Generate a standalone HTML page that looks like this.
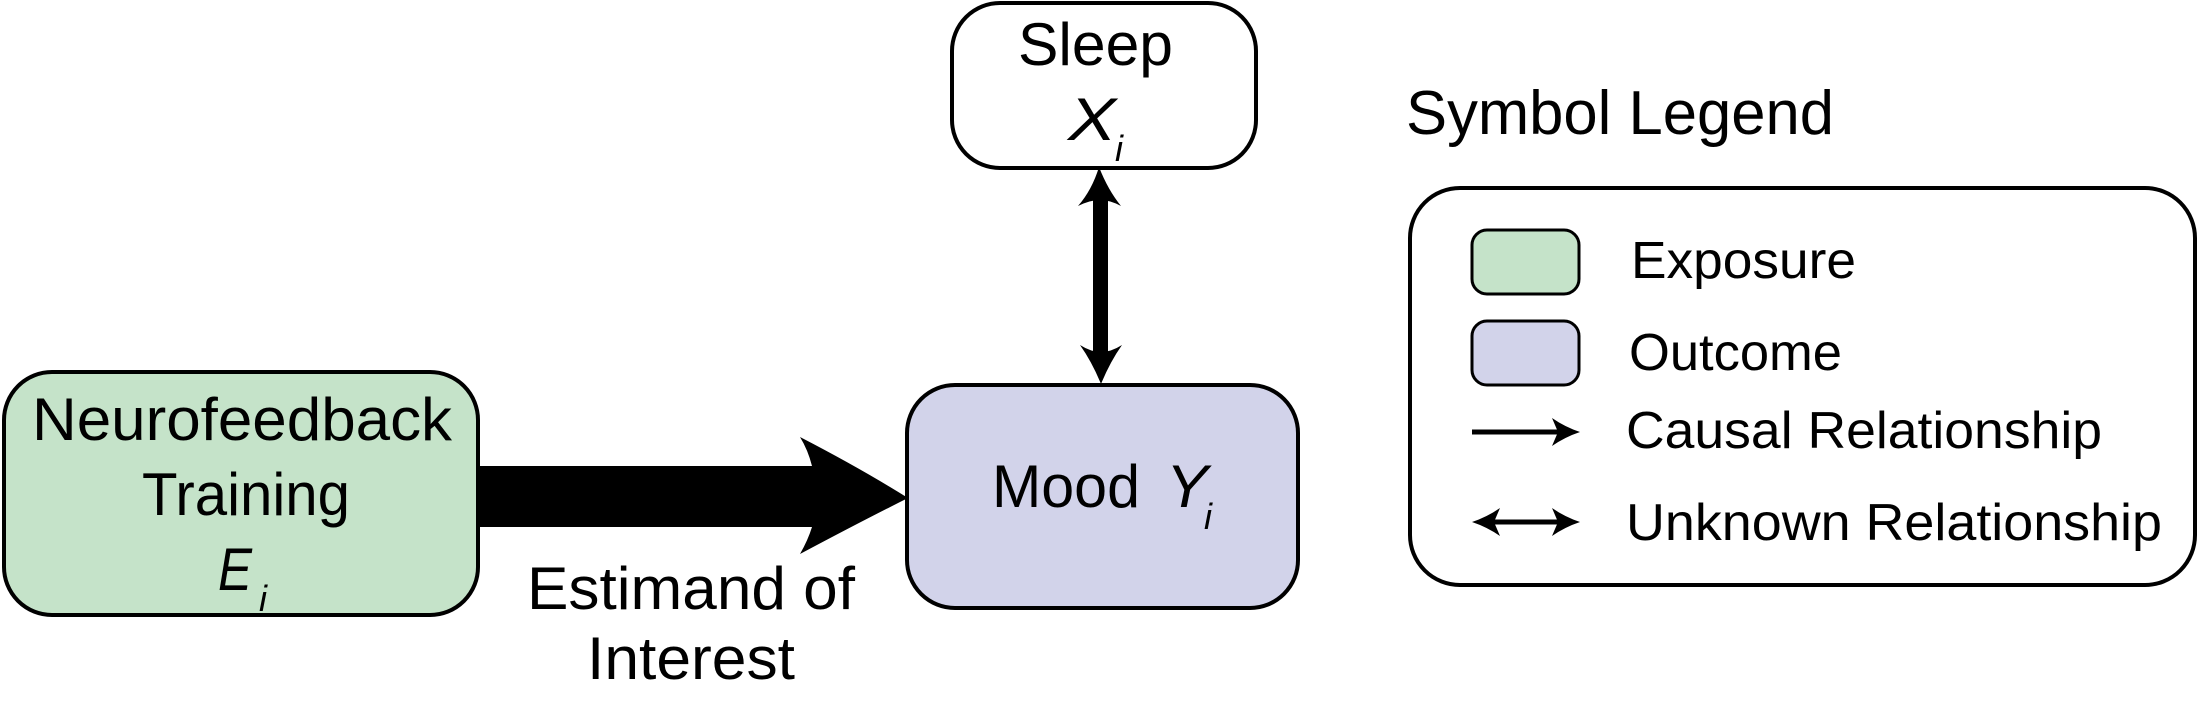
<!DOCTYPE html>
<html><head><meta charset="utf-8"><style>
html,body{margin:0;padding:0;background:#fff;}
svg{display:block;}
text{font-family:"Liberation Sans",Arial,sans-serif;fill:#000;}
</style></head><body>
<svg width="2198" height="703" viewBox="0 0 2198 703" xmlns="http://www.w3.org/2000/svg">
<rect x="4" y="372" width="474" height="243" rx="48" fill="#c5e3c9" stroke="#000" stroke-width="4"/>
<text x="32" y="440" font-size="60" textLength="420" lengthAdjust="spacingAndGlyphs">Neurofeedback</text>
<text x="142" y="515" font-size="60" textLength="208" lengthAdjust="spacingAndGlyphs">Training</text>
<text x="218" y="590" font-size="60" font-style="italic" textLength="34" lengthAdjust="spacingAndGlyphs">E</text>
<text x="259" y="611" font-size="36" font-style="italic">i</text>
<rect x="907" y="385" width="391" height="223" rx="48" fill="#d2d3ea" stroke="#000" stroke-width="4"/>
<text x="992" y="507" font-size="60" textLength="148" lengthAdjust="spacingAndGlyphs">Mood</text>
<text x="1166" y="507" font-size="60" font-style="italic" textLength="42" lengthAdjust="spacingAndGlyphs">Y</text>
<text x="1204" y="529" font-size="36" font-style="italic">i</text>
<rect x="952" y="3" width="304" height="165" rx="48" fill="#fff" stroke="#000" stroke-width="4"/>
<text x="1018" y="65" font-size="60" textLength="155" lengthAdjust="spacingAndGlyphs">Sleep</text>
<text x="1068" y="140" font-size="60" font-style="italic" textLength="48" lengthAdjust="spacingAndGlyphs">X</text>
<text x="1115" y="161" font-size="36" font-style="italic">i</text>
<path d="M478,466 L812,466 Q808,450 800,437 Q860,468 908,498 Q860,522 800,554 Q808,540 812,527 L478,527 Z" fill="#000"/>
<text x="527" y="609" font-size="60" textLength="328" lengthAdjust="spacingAndGlyphs">Estimand of</text>
<text x="587" y="679" font-size="60" textLength="208" lengthAdjust="spacingAndGlyphs">Interest</text>
<path d="M1093,190 L1108,190 L1108,362 L1093,362 Z" fill="#000"/>
<path d="M1099,167 Q1108,190 1121,206 Q1110,200 1100,200 Q1090,200 1078,206 Q1092,190 1099,167 Z" fill="#000"/>
<path d="M1101,384 Q1092,362 1080,345 Q1091,352 1101,352 Q1111,352 1122,345 Q1110,362 1101,384 Z" fill="#000"/>
<text x="1406" y="134" font-size="62" textLength="428" lengthAdjust="spacingAndGlyphs">Symbol Legend</text>
<rect x="1410" y="188" width="785" height="397" rx="50" fill="#fff" stroke="#000" stroke-width="4"/>
<rect x="1472" y="230" width="107" height="64" rx="15" fill="#c5e3c9" stroke="#000" stroke-width="3"/>
<rect x="1472" y="321" width="107" height="64" rx="15" fill="#d2d3ea" stroke="#000" stroke-width="3"/>
<line x1="1472" y1="432" x2="1560" y2="432" stroke="#000" stroke-width="5"/>
<path d="M1580,432 Q1565,427 1552,418 L1558,432 L1552,446 Q1565,437 1580,432 Z" fill="#000"/>
<line x1="1490" y1="522" x2="1562" y2="522" stroke="#000" stroke-width="5"/>
<path d="M1580,522 Q1565,517 1552,508 L1558,522 L1552,536 Q1565,527 1580,522 Z" fill="#000"/>
<path d="M1472,522 Q1487,517 1500,508 L1494,522 L1500,536 Q1487,527 1472,522 Z" fill="#000"/>
<text x="1631" y="278" font-size="52" textLength="225" lengthAdjust="spacingAndGlyphs">Exposure</text>
<text x="1629" y="370" font-size="52" textLength="213" lengthAdjust="spacingAndGlyphs">Outcome</text>
<text x="1626" y="448" font-size="52" textLength="476" lengthAdjust="spacingAndGlyphs">Causal Relationship</text>
<text x="1626" y="540" font-size="52" textLength="536" lengthAdjust="spacingAndGlyphs">Unknown Relationship</text>
</svg>
</body></html>
